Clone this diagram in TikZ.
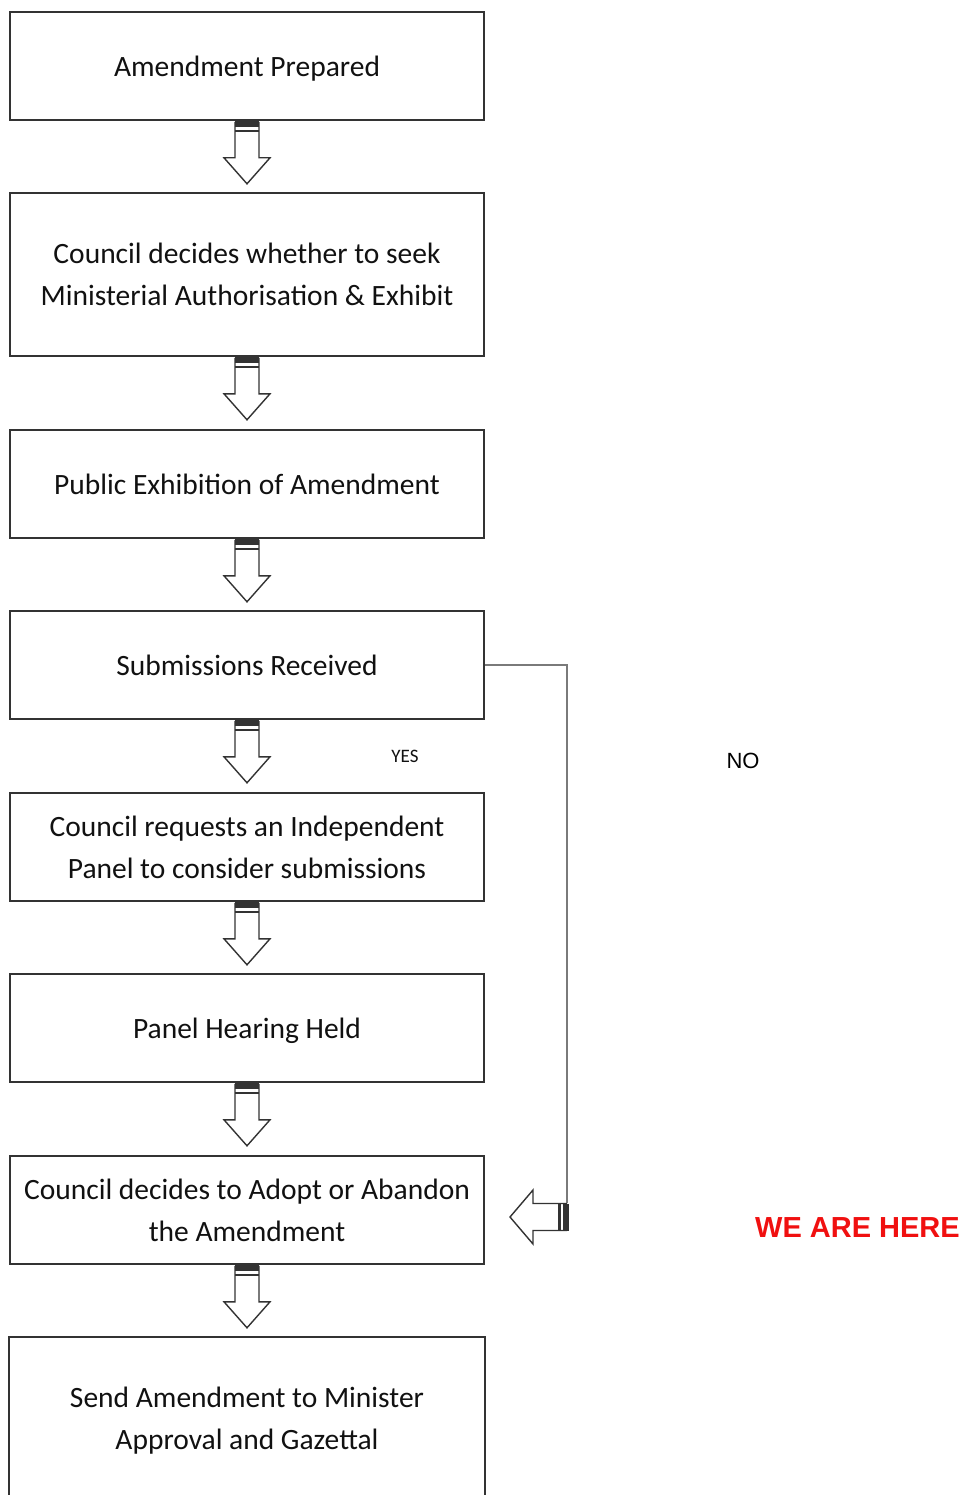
\documentclass[tikz,border=0pt]{standalone}
\usepackage{fontspec}
\setmainfont{Carlito}
\newfontfamily\arialf{Liberation Sans}
\definecolor{boxline}{HTML}{333333}
\definecolor{conline}{HTML}{7A7A7A}
\definecolor{txt}{HTML}{111111}
\definecolor{hereRed}{HTML}{F01010}
\newcommand{\dn}[1]{\raisebox{-3pt}[\height][\depth]{#1}}
\begin{document}
\begin{tikzpicture}[x=1pt,y=-1pt,
  box/.style={draw=boxline, line width=1.6pt, minimum width=474pt, minimum height=108pt,
    align=center, text=txt, font=\fontsize{29.5}{42}\selectfont, inner sep=0pt},
  hollow/.style={draw=boxline, line width=1.4pt, fill=white, line join=miter},
  band/.style={fill=boxline, draw=none}]
\useasboundingbox (0,0) rectangle (960,1495);

\node[box] (b1) at (247,66) {\dn{Amendment Prepared}};
\node[box, minimum height=163pt] (b2) at (247,274.5) {Council decides whether to seek\\Ministerial Authorisation \& Exhibit};
\node[box] (b3) at (247,484) {Public Exhibition of Amendment};
\node[box] (b4) at (247,665) {Submissions Received};
\node[box] (b5) at (247,847) {Council requests an Independent\\Panel to consider submissions};
\node[box] (b6) at (247,1028) {\dn{Panel Hearing Held}};
\node[box] (b7) at (247,1210) {Council decides to Adopt or Abandon\\the Amendment};
\node[box, draw=none, minimum height=166pt] (b8) at (247,1421) {Send Amendment to Minister\\Approval and Gazettal};
\draw[boxline, line width=1.6pt] (b8.south west) -- (b8.north west) -- (b8.north east) -- (b8.south east);

% hollow down arrows
\foreach \s in {b1,b2,b3,b4,b5,b6,b7}{
  \begin{scope}[shift={(\s.south)}]
    \draw[hollow] (-12,1) -- (-12,37) -- (-23,37) -- (0,63) -- (23,37) -- (12,37) -- (12,1);
    \fill[band] (-12,-1) rectangle (12,6);
    \fill[band] (-12,9) rectangle (12,11);
  \end{scope}
}

% NO connector
\coordinate (noend) at (567,1203);
\draw[conline, line width=1.6pt] (b4.east) -| (noend);
\begin{scope}[shift={(568,1217)}]
  \draw[hollow] (-1,-13.5) -- (-35,-13.5) -- (-35,-27) -- (-58,0) -- (-35,27) -- (-35,13.5) -- (-1,13.5);
  \fill[band] (-10,-13.5) rectangle (-7,13.5);
  \fill[band] (-5,-13.5) rectangle (1,13.5);
\end{scope}

\node[text=txt, font=\fontsize{19}{21}\selectfont] (yes) at (405,756) {YES};
\node[text=black, font=\arialf\fontsize{22}{24}\selectfont] (no) at (743,761) {NO};
\node[text=hereRed, font=\arialf\bfseries\fontsize{29}{32}\selectfont, anchor=east, inner sep=0pt] (here) at (960,1228) {WE ARE HERE};
\end{tikzpicture}
\end{document}
